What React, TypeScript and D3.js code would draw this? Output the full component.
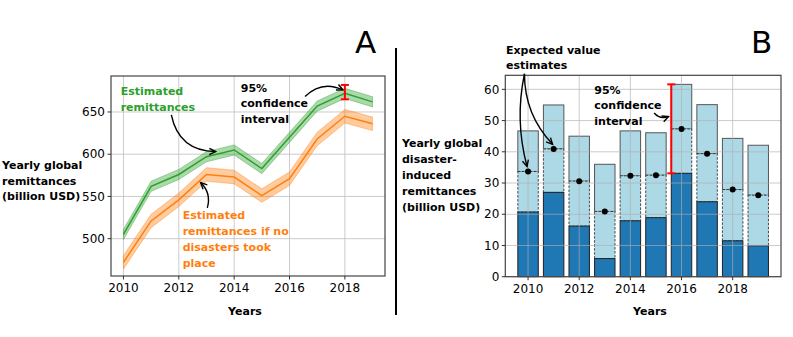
import React, { useEffect } from 'react';
import * as d3 from 'd3';

// Panel A data (billion USD)
const years = [2010, 2011, 2012, 2013, 2014, 2015, 2016, 2017, 2018, 2019];
const estimated = [505, 562, 576, 597, 605, 583, 620, 657, 672, 662];
const estimatedLow = [499, 556, 570, 591, 599, 577, 614, 651, 666, 656];
const estimatedHigh = [511, 568, 582, 603, 611, 589, 626, 663, 678, 668];
const noDisaster = [472, 521, 546, 576, 573, 551, 571, 618, 645, 636];
const noDisasterLow = [464, 513, 538, 568, 565, 543, 563, 610, 637, 628];
const noDisasterHigh = [480, 529, 554, 584, 581, 559, 579, 626, 653, 644];
const ciA = { year: 2018, low: 665, high: 682 };
const yTicksA = [500, 550, 600, 650];

// Panel B data (billion USD)
const lower = [20.7, 27, 16.2, 5.8, 17.9, 18.9, 33.1, 24, 11.5, 9.9];
const expected = [33.7, 40.9, 30.6, 20.9, 32.3, 32.5, 47.3, 39.4, 27.9, 26.1];
const upper = [46.7, 55, 45, 36, 46.7, 46.1, 61.6, 55.1, 44.3, 42.1];
const ciB = { year: 2015.6, low: 33.1, high: 61.6 };
const yTicksB = [0, 10, 20, 30, 40, 50, 60];
const xTicks = [2010, 2012, 2014, 2016, 2018];

const FONT = 'DejaVu Sans, sans-serif';
const GRID = '#b0b0b0';
const LBL = 11;

type Pt = [number, number];

function Arrow({ from, to, rad }: { from: Pt; to: Pt; rad: number }) {
  const [x1, y1] = from;
  const [x2, y2] = to;
  const dx = x2 - x1, dy = y2 - y1;
  const cx = (x1 + x2) / 2 - rad * dy;
  const cy = (y1 + y2) / 2 + rad * dx;
  const ang = Math.atan2(y2 - cy, x2 - cx);
  const hl = 7, ha = 0.45;
  const h1: Pt = [x2 - hl * Math.cos(ang - ha), y2 - hl * Math.sin(ang - ha)];
  const h2: Pt = [x2 - hl * Math.cos(ang + ha), y2 - hl * Math.sin(ang + ha)];
  return (
    <g fill="none" stroke="#000" strokeWidth={1.4}>
      <path d={`M${x1},${y1}Q${cx},${cy} ${x2},${y2}`} />
      <path d={`M${h1[0]},${h1[1]}L${x2},${y2}L${h2[0]},${h2[1]}`} />
    </g>
  );
}

function Lines({ x, y, lines, color, lh = 16 }: { x: number; y: number; lines: string[]; color: string; lh?: number }) {
  return (
    <text x={x} y={y} fill={color} fontFamily={FONT} fontSize={LBL} fontWeight="bold">
      {lines.map((l, i) => (
        <tspan key={i} x={x} dy={i === 0 ? 0 : lh}>{l}</tspan>
      ))}
    </text>
  );
}

function ErrorBar({ x, y1, y2 }: { x: number; y1: number; y2: number }) {
  return (
    <g stroke="#ff0000" strokeWidth={2}>
      <line x1={x} x2={x} y1={y1} y2={y2} />
      <line x1={x - 4} x2={x + 4} y1={y1} y2={y1} />
      <line x1={x - 4} x2={x + 4} y1={y2} y2={y2} />
    </g>
  );
}

function PanelA() {
  const left = 111, right = 385, top = 76, bottom = 276;
  const x = d3.scaleLinear().domain([2009.55, 2019.45]).range([left, right]);
  const y = d3.scaleLinear().domain([455.8, 692.6]).range([bottom, top]);
  const line = d3.line<number>().x((_, i) => x(years[i])).y(d => y(d));
  const band = (lo: number[], hi: number[]) =>
    d3.area<number>().x(d => x(d)).y0((_, i) => y(lo[i])).y1((_, i) => y(hi[i]))(years) || '';

  return (
    <g>
      <defs>
        <clipPath id="clipA"><rect x={left} y={top} width={right - left} height={bottom - top} /></clipPath>
      </defs>
      <g stroke={GRID} strokeWidth={0.8} opacity={0.8}>
        {xTicks.map(t => <line key={t} x1={x(t)} x2={x(t)} y1={top} y2={bottom} />)}
        {yTicksA.map(t => <line key={t} x1={left} x2={right} y1={y(t)} y2={y(t)} />)}
      </g>
      <g clipPath="url(#clipA)">
        <path d={band(estimatedLow, estimatedHigh)} fill="#2ca02c" fillOpacity={0.4} stroke="#2ca02c" strokeOpacity={0.4} />
        <path d={band(noDisasterLow, noDisasterHigh)} fill="#ff7f0e" fillOpacity={0.4} stroke="#ff7f0e" strokeOpacity={0.4} />
        <path d={line(estimated) || ''} fill="none" stroke="#2ca02c" strokeWidth={1.5} />
        <path d={line(noDisaster) || ''} fill="none" stroke="#ff7f0e" strokeWidth={1.5} />
      </g>
      <ErrorBar x={x(ciA.year)} y1={y(ciA.low)} y2={y(ciA.high)} />
      <rect x={left} y={top} width={right - left} height={bottom - top} fill="none" stroke="#444" strokeWidth={1.2} />
      {yTicksA.map(t => (
        <g key={t}>
          <line x1={left - 3.5} x2={left} y1={y(t)} y2={y(t)} stroke="#333" />
          <text x={left - 6} y={y(t)} dy="0.35em" textAnchor="end" fontFamily={FONT} fontSize={12}>{t}</text>
        </g>
      ))}
      {xTicks.map(t => (
        <g key={t}>
          <line x1={x(t)} x2={x(t)} y1={bottom} y2={bottom + 3.5} stroke="#333" />
          <text x={x(t)} y={bottom + 16} textAnchor="middle" fontFamily={FONT} fontSize={12}>{t}</text>
        </g>
      ))}
      <text x={245} y={315} textAnchor="middle" fontFamily={FONT} fontSize={LBL} fontWeight="bold">Years</text>
      <Lines x={2} y={169} lines={['Yearly global', 'remittances', '(billion USD)']} color="#000" lh={15.5} />
      <text x={355} y={53} fontFamily={FONT} fontSize={31}>A</text>

      <Lines x={x(2009.9)} y={y(670)} lines={['Estimated', 'remittances']} color="#2ca02c" />
      <Arrow from={[x(2011.73), y(646.6)]} to={[x(2013.33), y(603.1)]} rad={0.4} />
      <Lines x={x(2014.24)} y={y(673.8)} lines={['95%', 'confidence', 'interval']} color="#000" lh={15.5} />
      <Arrow from={[x(2016.56), y(668.2)]} to={[x(2017.93), y(676.1)]} rad={-0.35} />
      <Lines x={x(2012.14)} y={y(523.3)} lines={['Estimated', 'remittances if no', 'disasters took', 'place']} color="#ff7f0e" />
      <Arrow from={[x(2013.03), y(536.4)]} to={[x(2012.79), y(566.4)]} rad={0.3} />
    </g>
  );
}

function PanelB() {
  const left = 505.3, right = 781, top = 75.3, bottom = 276.7;
  const x = d3.scaleLinear().domain([2009.11, 2019.89]).range([left, right]);
  const y = d3.scaleLinear().domain([0, 64.5]).range([bottom, top]);
  const bw = x(2010.4) - x(2009.6);

  return (
    <g>
      {years.map((yr, i) => (
        <g key={yr}>
          <rect x={x(yr) - bw / 2} y={y(upper[i])} width={bw} height={y(expected[i]) - y(upper[i])}
            fill="#add8e6" stroke="#555" strokeWidth={1} />
          <rect x={x(yr) - bw / 2} y={y(expected[i])} width={bw} height={y(lower[i]) - y(expected[i])}
            fill="#add8e6" stroke="#222" strokeWidth={0.8} strokeDasharray="2.5,1.5" />
          <rect x={x(yr) - bw / 2} y={y(lower[i])} width={bw} height={y(0) - y(lower[i])}
            fill="#1f77b4" stroke="#222" strokeWidth={1} />
        </g>
      ))}
      <g stroke={GRID} strokeWidth={0.8} opacity={0.8}>
        {xTicks.map(t => <line key={t} x1={x(t)} x2={x(t)} y1={top} y2={bottom} />)}
        {yTicksB.map(t => <line key={t} x1={left} x2={right} y1={y(t)} y2={y(t)} />)}
      </g>
      {years.map((yr, i) => (
        <circle key={yr} cx={x(yr)} cy={y(expected[i])} r={3} fill="#000" />
      ))}
      <ErrorBar x={x(ciB.year)} y1={y(ciB.low)} y2={y(ciB.high)} />
      <rect x={left} y={top} width={right - left} height={bottom - top} fill="none" stroke="#444" strokeWidth={1.2} />
      {yTicksB.map(t => (
        <g key={t}>
          <line x1={left - 3.5} x2={left} y1={y(t)} y2={y(t)} stroke="#333" />
          <text x={left - 6} y={y(t)} dy="0.35em" textAnchor="end" fontFamily={FONT} fontSize={12}>{t}</text>
        </g>
      ))}
      {xTicks.map(t => (
        <g key={t}>
          <line x1={x(t)} x2={x(t)} y1={bottom} y2={bottom + 3.5} stroke="#333" />
          <text x={x(t)} y={bottom + 16} textAnchor="middle" fontFamily={FONT} fontSize={12}>{t}</text>
        </g>
      ))}
      <text x={650} y={315} textAnchor="middle" fontFamily={FONT} fontSize={LBL} fontWeight="bold">Years</text>
      <Lines x={2 + 400} y={146.5} lines={['Yearly global', 'disaster-', 'induced', 'remittances', '(billion USD)']} color="#000" />
      <text x={751} y={53} fontFamily={FONT} fontSize={31}>B</text>

      <Lines x={506} y={53.5} lines={['Expected value', 'estimates']} color="#000" lh={15.5} />
      <Arrow from={[x(2009.86), y(65)]} to={[x(2009.96), y(35.3)]} rad={0.12} />
      <Arrow from={[x(2009.86), y(65)]} to={[x(2010.96), y(42.4)]} rad={0.2} />
      <Lines x={x(2012.59)} y={y(58.6)} lines={['95%', 'confidence', 'interval']} color="#000" lh={15.5} />
      <Arrow from={[x(2014.93), y(52.4)]} to={[x(2015.49), y(51.3)]} rad={0.35} />
    </g>
  );
}

export default function App() {
  useEffect(() => {
    document.body.style.margin = '0';
  }, []);
  return (
    <svg width={793} height={337} style={{ display: 'block', background: '#fff' }}>
      <rect width={793} height={337} fill="#fff" />
      <PanelA />
      <line x1={396} x2={396} y1={48} y2={315} stroke="#000" strokeWidth={2} />
      <PanelB />
    </svg>
  );
}
